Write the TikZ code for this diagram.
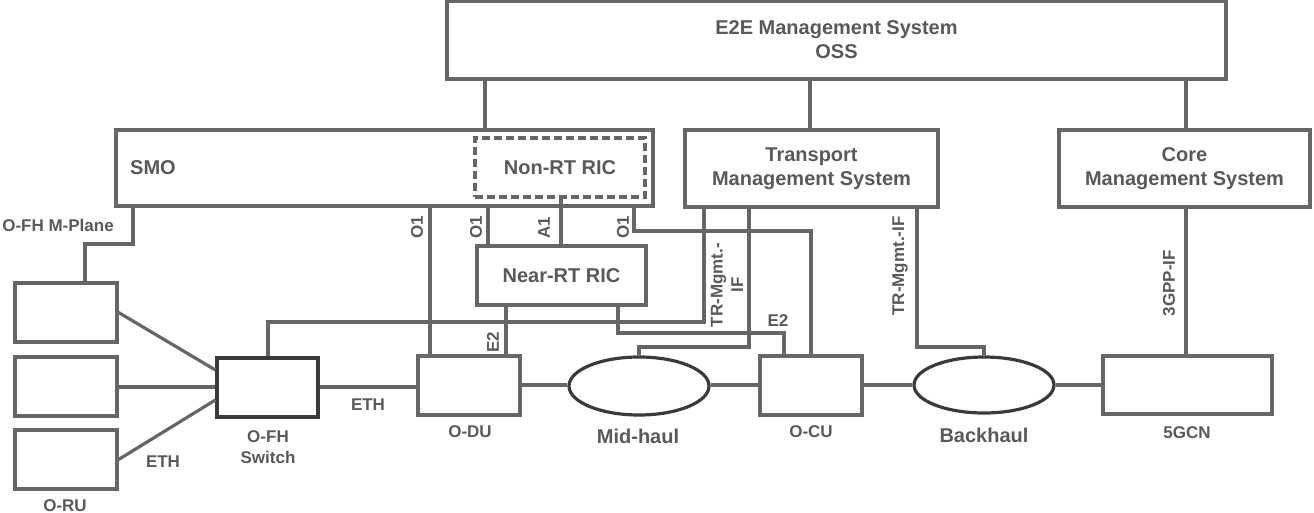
\documentclass[tikz,border=0pt]{standalone}
\usepackage{fontspec}
\setmainfont{Liberation Sans}
\usetikzlibrary{shapes.geometric}
\definecolor{linec}{HTML}{666666}
\definecolor{textc}{HTML}{595959}
\definecolor{darkc}{HTML}{3A3A3A}
\tikzset{
  box/.style={draw=linec, line width=3.2bp, rectangle, inner sep=0pt, fill=white},
  conn/.style={draw=linec, line width=3.2bp},
  bigtxt/.style={text=textc, font=\bfseries\fontsize{20bp}{24bp}\selectfont, align=center, inner sep=0pt},
  smalltxt/.style={text=textc, font=\bfseries\fontsize{17bp}{20.5bp}\selectfont, align=center, inner sep=0pt},
  cloud/.style={draw=darkc, line width=3.2bp, ellipse, inner sep=0pt, fill=white},
}
\begin{document}
\begin{tikzpicture}[x=1bp,y=-1bp]
\useasboundingbox (0,0) rectangle (1314,513);
% boxes
\node[box, bigtxt, minimum width=779bp, minimum height=78bp] (e2e) at (836.5,40) {E2E Management System\\OSS};
\node[box, minimum width=537bp, minimum height=76bp] (smo) at (384.5,168) {};
\node[bigtxt, anchor=west] (smolbl) at (130,168) {SMO};
\node[box, bigtxt, draw=linec, dash pattern=on 8bp off 4bp, minimum width=170bp, minimum height=59bp] (nonrt) at (560,167.5) {Non-RT RIC};
\node[box, bigtxt, minimum width=253bp, minimum height=77bp] (tms) at (811.5,168.5) {Transport\\Management System};
\node[box, bigtxt, minimum width=251bp, minimum height=77bp] (cms) at (1184.5,168.5) {Core\\Management System};
\node[box, bigtxt, minimum width=169bp, minimum height=59bp] (nearrt) at (561.5,275.5) {Near-RT RIC};
\node[box, minimum width=102bp, minimum height=59bp] (oru1) at (66,312.5) {};
\node[box, minimum width=102bp, minimum height=59bp] (oru2) at (66,386.5) {};
\node[box, minimum width=102bp, minimum height=59bp] (oru3) at (66,459.5) {};
\node[box, draw=darkc, minimum width=101bp, minimum height=59bp] (sw) at (267.5,387.5) {};
\node[box, minimum width=102bp, minimum height=59bp] (odu) at (469,385.5) {};
\node[cloud, minimum width=140bp, minimum height=58bp] (mid) at (639,386) {};
\node[box, minimum width=102bp, minimum height=59bp] (ocu) at (811,385.5) {};
\node[cloud, minimum width=140bp, minimum height=56bp] (back) at (984,385) {};
\node[box, minimum width=169bp, minimum height=58bp] (gcn) at (1187.5,385) {};
% captions
\node[smalltxt] (orulbl) at (65,506) {O-RU};
\node[smalltxt] (swlbl) at (268,447) {O-FH\\Switch};
\node[smalltxt] (dulbl) at (470,432) {O-DU};
\node[bigtxt] (midlbl) at (638,436) {Mid-haul};
\node[smalltxt] (culbl) at (811,432) {O-CU};
\node[bigtxt] (backlbl) at (984,435) {Backhaul};
\node[smalltxt] (gcnlbl) at (1187,433) {5GCN};
% connectors
\draw[conn] (485,0 |- e2e.south) -- (485,0 |- smo.north);
\draw[conn] (810,0 |- e2e.south) -- (810,0 |- tms.north);
\draw[conn] (1186,0 |- e2e.south) -- (1186,0 |- cms.north);
\draw[conn] (133,0 |- smo.south) -- (133,244) -- (85,244) -- (85,0 |- oru1.north)
  node[smalltxt] (mplbl) at (58,225) {O-FH M-Plane};
\draw[conn] (430,0 |- smo.south) -- (430,0 |- odu.north)
  node[smalltxt, rotate=90] (o1a) at (417,227) {O1};
\draw[conn] (488,0 |- smo.south) -- (488,0 |- nearrt.north)
  node[smalltxt, rotate=90] (o1b) at (476,227) {O1};
\draw[conn] (561,0 |- nonrt.south) -- (561,0 |- nearrt.north)
  node[smalltxt, rotate=90] (a1) at (544,228) {A1};
\draw[conn] (634,0 |- smo.south) -- (634,231) -- (811,231) -- (811,0 |- ocu.north)
  node[smalltxt, rotate=90] (o1c) at (623,227) {O1};
\draw[conn] (704,0 |- tms.south) -- (704,322) -- (268,322) -- (268,0 |- sw.north)
  node[smalltxt, rotate=90] (trlbl) at (727,285) {TR-Mgmt.-\\IF};
\draw[conn] (749,0 |- tms.south) -- (749,347) -- (639,347) -- (mid.north);
\draw[conn] (506,0 |- nearrt.south) -- (506,0 |- odu.north)
  node[smalltxt, rotate=90] (e2a) at (493,342) {E2};
\draw[conn] (618,0 |- nearrt.south) -- (618,333) -- (784,333) -- (784,0 |- ocu.north)
  node[smalltxt] (e2b) at (778,321) {E2};
\draw[conn] (917,0 |- tms.south) -- (917,347) -- (984,347) -- (back.north)
  node[smalltxt, rotate=90] (trlbl2) at (900,266) {TR-Mgmt.-IF};
\draw[conn] (1186,0 |- cms.south) -- (1186,0 |- gcn.north)
  node[smalltxt, rotate=90] (gpplbl) at (1169,283) {3GPP-IF};
\draw[conn] (oru1.east) -- (sw.west |- 0,370);
\draw[conn] (oru2.east |- 0,387) -- (sw.west |- 0,387);
\draw[conn] (oru3.east) -- (sw.west |- 0,400)
  node[smalltxt] (eth1) at (163,462) {ETH};
\draw[conn] (sw.east |- 0,387) -- (odu.west |- 0,387)
  node[smalltxt] (eth2) at (368,405) {ETH};
\draw[conn] (odu.east |- 0,385) -- (mid.west |- 0,385);
\draw[conn] (mid.east |- 0,385) -- (ocu.west |- 0,385);
\draw[conn] (ocu.east |- 0,385) -- (back.west);
\draw[conn] (back.east) -- (gcn.west |- 0,385);
\end{tikzpicture}
\end{document}
